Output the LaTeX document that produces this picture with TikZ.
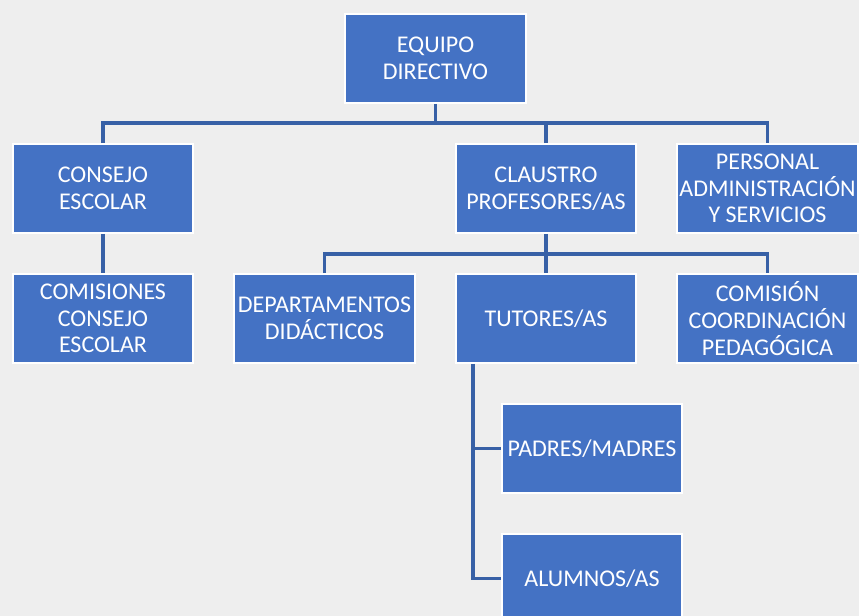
\documentclass[tikz,border=0pt]{standalone}
\usepackage{fontspec}
\setmainfont{Carlito}
\definecolor{boxblue}{HTML}{4472C4}
\definecolor{linkblue}{HTML}{3760A6}
\definecolor{bg}{HTML}{EEEEEE}
\begin{document}
\begin{tikzpicture}[x=0.75pt,y=-0.75pt,
  orgbox/.style={draw=white,line width=1.6pt,fill=boxblue,text=white,
    minimum width=135.5pt,minimum height=66.5pt,inner sep=0pt,align=center,
    font=\fontsize{18}{20}\selectfont},
  link/.style={draw=linkblue,line width=2.3pt}]
\useasboundingbox (0,0) rectangle (859,616);
\clip (0,0) rectangle (859,616);
\fill[bg] (0,0) rectangle (859,616);
\node[orgbox] (ED) at (435.5,58.5) {EQUIPO\\DIRECTIVO};
\node[orgbox] (CE) at (103,188.5) {CONSEJO\\ESCOLAR};
\node[orgbox] (CP) at (546,188.5) {CLAUSTRO\\PROFESORES/AS};
\node[orgbox] (PAS) at (767.5,188.5) {PERSONAL\\ADMINISTRACIÓN\\Y SERVICIOS};
\node[orgbox] (CCE) at (103,318.5) {COMISIONES\\CONSEJO\\ESCOLAR};
\node[orgbox] (DD) at (324.5,318.5) {DEPARTAMENTOS\\DIDÁCTICOS};
\node[orgbox] (TU) at (546,318.5) {TUTORES/AS};
\node[orgbox] (CCP) at (767.5,318.5) {COMISIÓN\\COORDINACIÓN\\PEDAGÓGICA};
\node[orgbox] (PM) at (592,448.5) {PADRES/MADRES};
\node[orgbox] (AL) at (592,578.5) {ALUMNOS/AS};
\coordinate (b1) at (436,123);
\coordinate (b2) at (546,254);
\coordinate (tx) at (473,0);
\draw[link] (ED.south) -- (ED.south |- b1);
\draw[link] (CE.north) |- (b1) -| (PAS.north);
\draw[link] (CP.north) -- (CP.north |- b1);
\draw[link] (CE.south) -- (CCE.north);
\draw[link] (DD.north) |- (b2) -| (CCP.north);
\draw[link] (CP.south) -- (TU.north);
\draw[link] (tx |- TU.south) |- (AL.west);
\draw[link] (tx |- PM.west) -- (PM.west);
\end{tikzpicture}
\end{document}
